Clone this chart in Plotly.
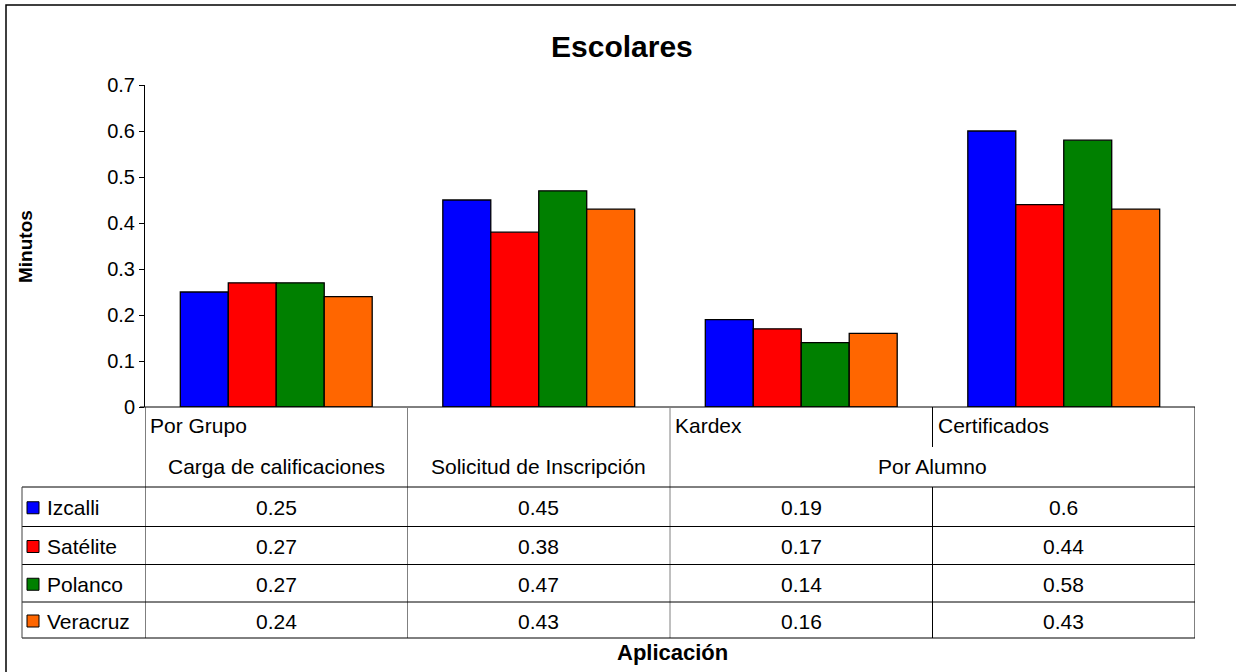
import plotly.graph_objects as go

# ---- data ----
top_labels = ["Por Grupo", "", "Kardex", "Certificados"]
bottom_labels = ["Carga de calificaciones", "Solicitud de Inscripción", "Por Alumno"]
bottom_spans = [(0, 0), (1, 1), (2, 3)]  # column ranges covered by each lower label
series_names = ["Izcalli", "Satélite", "Polanco", "Veracruz"]
izcalli = [0.25, 0.45, 0.19, 0.6]
satelite = [0.27, 0.38, 0.17, 0.44]
polanco = [0.27, 0.47, 0.14, 0.58]
veracruz = [0.24, 0.43, 0.16, 0.43]
series_values = [izcalli, satelite, polanco, veracruz]
series_colors = ["#0000FF", "#FF0000", "#008000", "#FF6600"]

W, H = 1236, 672
FONT = "Arial, Liberation Sans, sans-serif"
TXT = 21

# plot-area pixel box
PX_L, PX_R, PX_T, PX_B = 145, 1195, 85, 407


def py(v):
    """pixel row -> paper y"""
    return 1 - v / H


def px(v):
    """pixel column -> paper x"""
    return v / W


def label(x, y, text, size=TXT, xref="paper", xanchor="center", **kw):
    return dict(x=x, xref=xref, y=py(y), yref="paper", text=text,
                showarrow=False, xanchor=xanchor, yanchor="middle",
                font=dict(size=size, color="black", family=FONT), **kw)


n = len(top_labels)
xs = list(range(n))

fig = go.Figure()
for name, vals, col in zip(series_names, series_values, series_colors):
    fig.add_trace(go.Bar(
        x=xs, y=vals, name=name,
        marker=dict(color=col, line=dict(color="black", width=1.3)),
        showlegend=False,
    ))

shapes = []
annotations = []


def hline(y, x0, x1, color="black", xref="paper"):
    shapes.append(dict(type="line", xref=xref, yref="paper", x0=x0, x1=x1,
                       y0=py(y), y1=py(y), line=dict(color=color, width=1)))


def vline(x, y0, y1, color="black", xref="x"):
    shapes.append(dict(type="line", xref=xref, yref="paper", x0=x, x1=x,
                       y0=py(y0), y1=py(y1), line=dict(color=color, width=1)))


# category header area
hline(PX_B, px(140), px(PX_R))
vline(-0.5, PX_B, 638)
vline(n - 0.5, PX_B, 638)
for i in range(1, n):
    b = i - 0.5
    # inner split between columns of a shared lower label stays short
    shared = any(s0 < i <= s1 for s0, s1 in bottom_spans)
    if shared:
        vline(b, PX_B, 447)
        vline(b, 487, 638)
    else:
        vline(b, PX_B, 638, color="#808080")

# data rows
row_edges = [487, 526.5, 564.5, 602, 638]
for y in row_edges:
    hline(y, px(22), px(PX_R))
vline(px(22), 487, 638, color="#404040", xref="paper")

for i, lab in enumerate(top_labels):
    if lab:
        annotations.append(label(i - 0.5, 425, lab, xref="x", xanchor="left", xshift=3))
for lab, (s0, s1) in zip(bottom_labels, bottom_spans):
    annotations.append(label((s0 + s1) / 2, 466, lab, xref="x"))

for r, (name, vals, col) in enumerate(zip(series_names, series_values, series_colors)):
    yc = (row_edges[r] + row_edges[r + 1]) / 2
    shapes.append(dict(type="rect", xref="paper", yref="paper",
                       x0=px(27), x1=px(39), y0=py(yc + 7), y1=py(yc - 5),
                       fillcolor=col, line=dict(color="black", width=1)))
    annotations.append(label(px(45), yc + 1, name, xanchor="left"))
    for i, v in enumerate(vals):
        annotations.append(label(i, yc + 1, f"{v:g}", xref="x"))

# outer chart frame
shapes.append(dict(type="rect", xref="paper", yref="paper",
                   x0=px(6), x1=px(1240), y0=py(676), y1=py(5),
                   line=dict(color="black", width=1.5), fillcolor="rgba(0,0,0,0)"))

# titles
annotations.append(label(px(622), 47, "<b>Escolares</b>", size=30))
annotations.append(label(px(25), 247, "<b>Minutos</b>", size=19, textangle=-90))
annotations.append(label(px(672), 652, "<b>Aplicación</b>", size=22))

fig.update_layout(
    template="none",
    width=W, height=H, autosize=False,
    margin=dict(l=0, r=0, t=0, b=0, pad=0),
    paper_bgcolor="white", plot_bgcolor="white",
    barmode="group", bargap=0.269, bargroupgap=0,
    shapes=shapes, annotations=annotations,
    font=dict(family=FONT, color="black"),
    xaxis=dict(domain=[px(PX_L), px(PX_R)], range=[-0.5, n - 0.5],
               showticklabels=False, showgrid=False, zeroline=False,
               showline=False, ticks="", automargin=False),
    yaxis=dict(domain=[py(PX_B), py(PX_T)], range=[0, 0.7], dtick=0.1,
               showgrid=False, zeroline=False, showline=True,
               linecolor="black", linewidth=1, ticks="outside", ticklen=5,
               tickcolor="black", tickfont=dict(size=20, color="black", family=FONT),
               tickformat="~g", automargin=False),
)

fig.write_html("out.html")
